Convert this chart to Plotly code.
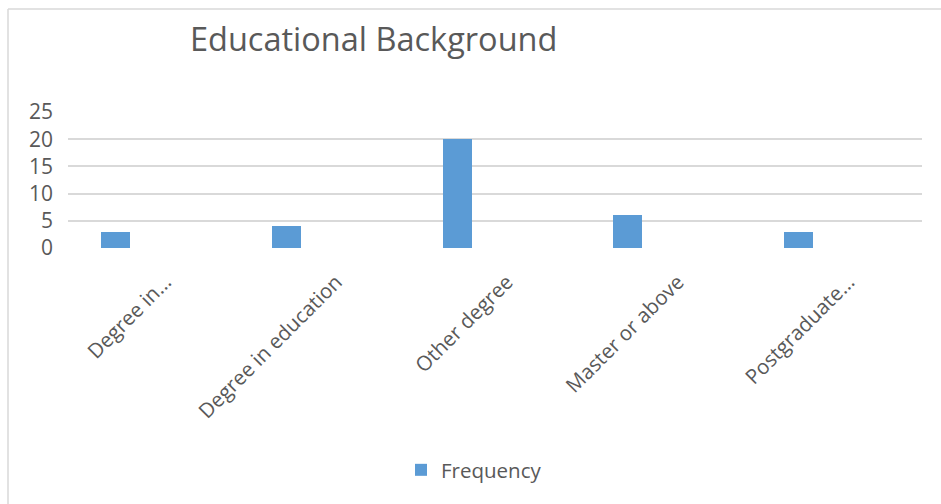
import plotly.graph_objects as go

categories = ["Degree in...", "Degree in education", "Other degree", "Master or above", "Postgraduate..."]
frequency = [3, 4, 20, 6, 3]
y_ticks = [0, 5, 10, 15, 20, 25]

W, H = 941, 504
L, R, T, B = 68, 19, 112, 256
pw = W - L - R
ph = H - T - B

fig = go.Figure()
fig.add_trace(go.Bar(
    x=list(range(len(categories))), y=frequency, name="Frequency",
    marker=dict(color="#5b9bd5", line=dict(width=0)),
    width=0.17, offset=-0.307,
))

FONT = "Open Sans"
fig.update_layout(
    width=W, height=H,
    margin=dict(l=L, r=R, t=T, b=B),
    paper_bgcolor="white", plot_bgcolor="white",
    font=dict(family=FONT, color="#595959", size=20),
    title=dict(text="Educational Background", x=190 / W, xref="container", xanchor="left",
               y=1 - 40 / H, yref="container", yanchor="middle",
               font=dict(family=FONT, size=32.5, color="#595959")),
    xaxis=dict(tickmode="array", tickvals=list(range(len(categories))), ticktext=categories,
               range=[-0.5, 4.5], tickangle=-45, showgrid=False, zeroline=False,
               showline=False, ticks="", ticklabelstandoff=17, ticklabelshift=12,
               tickfont=dict(size=20.5, color="#595959")),
    yaxis=dict(range=[0, 25], tickvals=y_ticks, showgrid=True, gridcolor="#d9d9d9", gridwidth=1.5,
               zeroline=False, showline=False, ticks="", ticklabelstandoff=14,
               tickfont=dict(size=21, color="#595959")),
    showlegend=True,
    legend=dict(orientation="h", xref="container", yref="container",
                x=401 / W, xanchor="left", y=1 - 470 / H, yanchor="middle",
                font=dict(size=20.5, color="#595959")),
    bargap=0,
)

def px_to_paper_x(px):
    return (px - L) / pw

def px_to_paper_y(py):
    return (H - B - py) / ph

fig.add_shape(type="line", xref="paper", yref="paper",
              x0=px_to_paper_x(8), x1=px_to_paper_x(8), y0=px_to_paper_y(504), y1=px_to_paper_y(9),
              line=dict(color="#d9d9d9", width=1.5))
fig.add_shape(type="line", xref="paper", yref="paper",
              x0=px_to_paper_x(8), x1=px_to_paper_x(941), y0=px_to_paper_y(9), y1=px_to_paper_y(9),
              line=dict(color="#d9d9d9", width=1.5))

fig.write_html("out.html")
